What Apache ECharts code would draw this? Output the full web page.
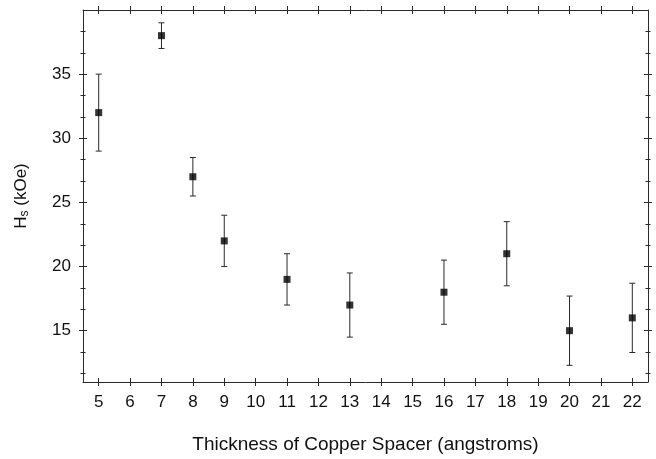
<!DOCTYPE html>
<html>
<head>
<meta charset="utf-8">
<script src="https://cdn.jsdelivr.net/npm/echarts@6/dist/echarts.min.js"></script>
<style>html,body{margin:0;padding:0;background:#fff;}#c{width:656px;height:459px;}</style>
</head>
<body>
<div id="c"></div>
<script>
const xTicks = [5,6,7,8,9,10,11,12,13,14,15,16,17,18,19,20,21,22];
const yLabels = [15,20,25,30,35];
const yMinor = [11.667,13.333,16.667,18.333,21.667,23.333,26.667,28.333,31.667,33.333,36.667,38.333];
const thickness = [5,7,8,9,11,13,16,18,20,22];
const hs = [32,38,27,22,19,17,18,21,15,16];
const hsLow = [29,37,25.5,20,17,14.5,15.5,18.5,12.3,13.3];
const hsHigh = [35,39,28.5,24,21,19.5,20.5,23.5,17.7,18.7];

const FONT = 'Liberation Sans';
const LINE = '#2a2a2a';
const TXT = '#111';

function xAx(position, inside, main) {
  return {
    type: 'value', position: position, min: 4.5, max: 22.5,
    axisLine: {show: main, onZero: false, lineStyle: {color: LINE, width: 1}},
    axisTick: {show: true, inside: inside, length: 4, customValues: xTicks, lineStyle: {color: LINE, width: 1}},
    axisLabel: {show: main && position === 'bottom', customValues: xTicks, margin: 12, fontSize: 17, fontFamily: FONT, color: TXT},
    splitLine: {show: false},
    name: (main && position === 'bottom') ? 'Thickness of Copper Spacer (angstroms)' : '',
    nameLocation: 'middle', nameGap: 53,
    nameTextStyle: {fontSize: 19, fontFamily: FONT, color: TXT}
  };
}
function yAx(position, inside, ticks, len, main, showLabel) {
  const o = {
    type: 'value', position: position, min: 11, max: 40,
    axisLine: {show: main, onZero: false, lineStyle: {color: LINE, width: 1}},
    axisTick: {show: true, inside: inside, length: len, customValues: ticks, lineStyle: {color: LINE, width: 1}},
    axisLabel: {show: showLabel, customValues: yLabels, margin: 12, fontSize: 17, fontFamily: FONT, color: TXT},
    splitLine: {show: false}
  };
  if (showLabel) {
    o.name = '{h|H}{s|s}{h| (kOe)}';
    o.nameLocation = 'middle';
    o.nameGap = 52;
    o.nameTextStyle = {
      rich: {
        h: {fontSize: 17, fontFamily: FONT, color: TXT},
        s: {fontSize: 12, fontFamily: FONT, color: TXT, verticalAlign: 'bottom', padding: [8, 0, 0, 0]}
      }
    };
  }
  return o;
}

const chart = echarts.init(document.getElementById('c'), null, {renderer: 'canvas'});
chart.setOption({
  animation: false,
  backgroundColor: '#fff',
  grid: {left: 83, top: 10, right: 8, bottom: 75},
  xAxis: [
    xAx('bottom', false, true),
    xAx('bottom', true, false),
    xAx('top', false, true),
    xAx('top', true, false)
  ],
  yAxis: [
    yAx('left', false, yLabels, 4, true, true),
    yAx('left', true, yLabels, 4, false, false),
    yAx('left', false, yMinor, 2.5, false, false),
    yAx('left', true, yMinor, 2.5, false, false),
    yAx('right', false, yLabels, 4, true, false),
    yAx('right', true, yLabels, 4, false, false),
    yAx('right', false, yMinor, 2.5, false, false),
    yAx('right', true, yMinor, 2.5, false, false)
  ],
  series: [
    {
      type: 'custom', xAxisIndex: 0, yAxisIndex: 0, z: 2,
      data: thickness.map((x, i) => [x, hsLow[i], hsHigh[i]]),
      encode: {x: 0, y: [1, 2]},
      renderItem: function (params, api) {
        const x = api.value(0);
        const pLo = api.coord([x, api.value(1)]);
        const pHi = api.coord([x, api.value(2)]);
        const w = 3;
        const st = {stroke: LINE, lineWidth: 1};
        return {type: 'group', children: [
          {type: 'line', shape: {x1: pLo[0], y1: pLo[1], x2: pHi[0], y2: pHi[1]}, style: st},
          {type: 'line', shape: {x1: pLo[0] - w, y1: pLo[1], x2: pLo[0] + w, y2: pLo[1]}, style: st},
          {type: 'line', shape: {x1: pHi[0] - w, y1: pHi[1], x2: pHi[0] + w, y2: pHi[1]}, style: st}
        ]};
      }
    },
    {
      type: 'scatter', xAxisIndex: 0, yAxisIndex: 0, z: 3,
      symbol: 'rect', symbolSize: 7,
      itemStyle: {color: '#000'},
      data: thickness.map((x, i) => [x, hs[i]])
    }
  ]
});
</script>
</body>
</html>
